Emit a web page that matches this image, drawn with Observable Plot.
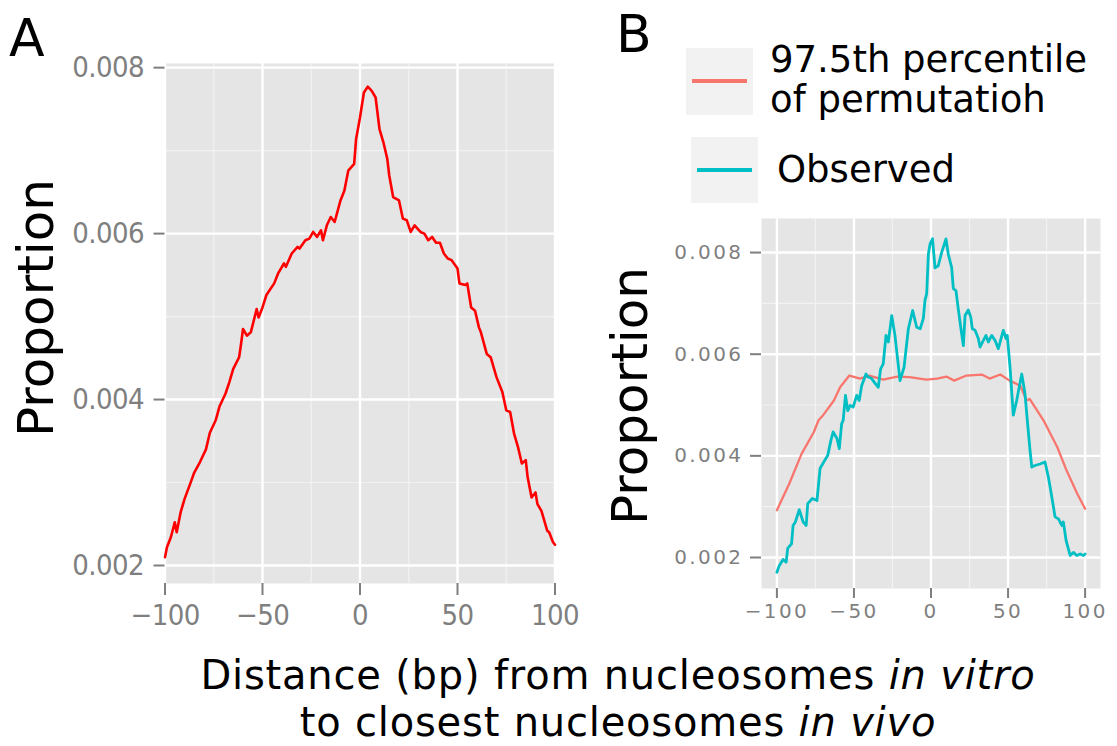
<!DOCTYPE html>
<html><head><meta charset="utf-8">
<script src="https://cdn.jsdelivr.net/npm/d3@7"></script>
<script src="https://cdn.jsdelivr.net/npm/@observablehq/plot@0.6"></script>
<style>
body{margin:0;background:#fff;}
#fig{position:relative;width:1117px;height:746px;overflow:hidden;font-family:"DejaVu Sans",sans-serif;color:#000;}
.abs{position:absolute;white-space:nowrap;line-height:1;}
.rot{transform:translate(-50%,-50%) rotate(-90deg);}
.key{position:absolute;background:#f2f2f2;}
.keyline{position:absolute;height:4px;}
</style></head><body><div id="fig"></div>
<script>
// ---- Panel A: proportion by distance (bp) ----
const aX = [-100,-99,-97,-95,-94,-92,-90,-87,-85,-82,-79,-77,-74,-72,-69,-67,-65,-62,-61,-60,-58,-56,-53,-52,-50,-48,-44,-42,-39,-38,-35,-32,-31,-28,-26,-24,-22,-20,-19,-17,-15,-13,-10,-8,-6,-3,-2,0,2,4,6,8,10,12,14,15,17,20,22,24,26,28,31,33,35,37,39,41,43,45,47,50,51,54,55,57,59,61,62,65,67,70,73,75,77,79,81,83,85,86,88,90,91,93,96,97,99,100];
const aY = [0.00210,0.00222,0.00234,0.00252,0.00240,0.00264,0.00280,0.00299,0.00312,0.00325,0.00340,0.00360,0.00375,0.00392,0.00407,0.00421,0.00437,0.00451,0.00467,0.00485,0.00477,0.00481,0.00509,0.00499,0.00511,0.00526,0.00540,0.00552,0.00564,0.00560,0.00576,0.00584,0.00582,0.00592,0.00594,0.00602,0.00596,0.00604,0.00592,0.00610,0.00620,0.00614,0.00640,0.00652,0.00676,0.00684,0.00714,0.00740,0.00770,0.00777,0.00772,0.00764,0.00726,0.00710,0.00690,0.00670,0.00644,0.00640,0.00618,0.00616,0.00602,0.00610,0.00602,0.00600,0.00592,0.00596,0.00589,0.00589,0.00576,0.00570,0.00568,0.00558,0.00540,0.00538,0.00540,0.00511,0.00507,0.00487,0.00481,0.00455,0.00451,0.00427,0.00409,0.00387,0.00385,0.00359,0.00343,0.00323,0.00327,0.00306,0.00282,0.00288,0.00274,0.00266,0.00242,0.00240,0.00228,0.00225];

// ---- Panel B: 97.5th percentile of permutation ----
const permX = [-100,-92,-84,-76,-73,-70,-63,-59,-53,-46,-40,-31,-22,-14,-3,4,10,15,23,33,38,45,51,58,62,64,73,82,88,95,100];
const permY = [0.00293,0.00345,0.00404,0.00447,0.00470,0.00480,0.00509,0.00535,0.00558,0.00552,0.00558,0.00550,0.00556,0.00555,0.00550,0.00552,0.00556,0.00548,0.00558,0.00560,0.00552,0.00560,0.00548,0.00538,0.00509,0.00512,0.00470,0.00417,0.00371,0.00325,0.00296];

// ---- Panel B: observed ----
const obsX = [-100,-98.5,-96,-94,-93,-90.5,-89.5,-88,-85.5,-83,-81,-80,-77,-74,-72,-69,-67,-65,-63.5,-61,-59.5,-58,-57,-55.5,-54,-52.5,-50.5,-48.2,-46.6,-45,-42.2,-40.7,-38.5,-36.4,-34.2,-32.7,-31,-29.2,-27.7,-25.5,-23.4,-20.1,-17.5,-14.7,-11.9,-9.3,-7,-5,-3.9,-2.8,-1.7,-0.6,1,2.6,4.7,6.9,9.7,11.2,13.4,14.5,16.2,17.7,19.3,21,22.1,24.2,25.8,26.8,28.6,30.7,31.8,34,35.7,37.2,39.4,41.6,43.7,46.9,48.7,49.5,51.3,53.4,55.6,58.9,61,62.5,64.3,65.4,67.5,70.8,74,76.2,78.4,80.5,82.7,84.9,85.9,87.7,90.3,92.4,94.6,96.8,98.9,100];
const obsY = [0.00171,0.00184,0.00196,0.00191,0.00218,0.00227,0.00263,0.00270,0.00294,0.00270,0.00263,0.00306,0.00316,0.00312,0.00375,0.00391,0.00401,0.00430,0.00447,0.00434,0.00414,0.00463,0.00470,0.00519,0.00489,0.00499,0.00496,0.00519,0.00509,0.00538,0.00561,0.00555,0.00552,0.00543,0.00535,0.00571,0.00581,0.00637,0.00624,0.00676,0.00637,0.00548,0.00574,0.00650,0.00686,0.00653,0.00650,0.00670,0.00706,0.00719,0.00797,0.00817,0.00827,0.00770,0.00774,0.00800,0.00827,0.00797,0.00771,0.00729,0.00725,0.00689,0.00653,0.00617,0.00676,0.00687,0.00673,0.00650,0.00647,0.00631,0.00614,0.00627,0.00637,0.00624,0.00637,0.00627,0.00611,0.00647,0.00631,0.00637,0.00574,0.00480,0.00509,0.00561,0.00522,0.00470,0.00410,0.00378,0.00381,0.00384,0.00388,0.00358,0.00319,0.00280,0.00276,0.00263,0.00270,0.00233,0.00204,0.00210,0.00204,0.00207,0.00204,0.00207];

// ---- ticks ----
const xMajor = [-100,-50,0,50,100];
const xMinor = [-75,-25,25,75];
const yMajor = [0.002,0.004,0.006,0.008];
const yMinor = [0.003,0.005,0.007];

const seriesNames = ["97.5th percentile\nof permutatioh","Observed"];
const seriesColors = ["#F8766D","#00BFC4"];

const aData = aX.map((x,i)=>({x, y:aY[i]}));
const permData = permX.map((x,i)=>({x, y:permY[i]}));
const obsData = obsX.map((x,i)=>({x, y:obsY[i]}));

const fig = document.getElementById("fig");

function background(){
  return [
    Plot.frame({fill:"#e5e5e5", stroke:"none"}),
    Plot.gridX(xMinor, {stroke:"#f2f2f2", strokeOpacity:1, strokeWidth:1.2}),
    Plot.gridY(yMinor, {stroke:"#f2f2f2", strokeOpacity:1, strokeWidth:1.2}),
    Plot.gridX(xMajor, {stroke:"#ffffff", strokeOpacity:1, strokeWidth:2.4}),
    Plot.gridY(yMajor, {stroke:"#ffffff", strokeOpacity:1, strokeWidth:2.4})
  ];
}

// Panel A
const plotA = Plot.plot({
  width: 580, height: 640,
  marginLeft: 164.5, marginRight: 25.5, marginTop: 63, marginBottom: 57,
  x: {domain: [-100, 100]},
  y: {domain: [0.001783, 0.00805]},
  style: {fontFamily: '"Liberation Sans Narrow","DejaVu Sans Condensed",sans-serif', letterSpacing: "-0.6px", background: "transparent"},
  marks: [
    ...background(),
    Plot.line(aData, {x:"x", y:"y", stroke:"#ff0000", strokeWidth:2.6}),
    Plot.axisX(xMajor, {label:null, tickSize:12, tickPadding:9, fontSize:29, color:"#7f7f7f", strokeWidth:2}),
    Plot.axisY(yMajor, {label:null, tickSize:11, tickPadding:10, fontSize:29, color:"#7f7f7f", strokeWidth:2, tickFormat: d3.format(".3f")})
  ]
});
plotA.style.position = "absolute"; plotA.style.left = "0px"; plotA.style.top = "0px";
fig.appendChild(plotA);

// Panel B
const plotB = Plot.plot({
  width: 477, height: 440,
  marginLeft: 121, marginRight: 17, marginTop: 18, marginBottom: 52,
  x: {domain: [-110, 110]},
  y: {domain: [0.00139, 0.00867]},
  style: {fontFamily: '"DejaVu Sans",sans-serif', letterSpacing: "2.4px", background: "transparent"},
  marks: [
    ...background(),
    Plot.line(permData, {x:"x", y:"y", stroke:seriesColors[0], strokeWidth:2.3}),
    Plot.line(obsData, {x:"x", y:"y", stroke:seriesColors[1], strokeWidth:2.8}),
    Plot.axisX(xMajor, {label:null, tickSize:10, tickPadding:5, fontSize:20, color:"#7f7f7f", strokeWidth:2}),
    Plot.axisY(yMajor, {label:null, tickSize:11, tickPadding:7, fontSize:20, color:"#7f7f7f", strokeWidth:2, tickFormat: d3.format(".3f")})
  ]
});
plotB.style.position = "absolute"; plotB.style.left = "640px"; plotB.style.top = "200px";
fig.appendChild(plotB);

// Text overlays
function addText(html, css, cls){
  const d = document.createElement("div");
  d.className = "abs" + (cls ? " " + cls : "");
  d.innerHTML = html;
  Object.assign(d.style, css);
  fig.appendChild(d);
  return d;
}
addText("A", {left:"9px", top:"12px", fontSize:"52px"});
addText("B", {left:"616px", top:"8px", fontSize:"52px"});
addText("Proportion", {left:"36px", top:"308px", fontSize:"50px"}, "rot");
addText("Proportion", {left:"630px", top:"396px", fontSize:"50px"}, "rot");
addText('Distance (bp) from nucleosomes <i>in vitro</i><br>to closest nucleosomes <i>in vivo</i>',
  {left:"618px", top:"652px", fontSize:"40px", letterSpacing:"0.8px", lineHeight:"47px", textAlign:"center", transform:"translateX(-50%)"});

// Legend
const keys = [
  {left:686, top:48, w:67, h:67, lineTop:79, text:seriesNames[0], tx:770, ty:40},
  {left:691, top:137, w:67, h:66, lineTop:168, text:seriesNames[1], tx:777, ty:150}
];
keys.forEach((k,i)=>{
  const b = document.createElement("div");
  b.className = "key";
  Object.assign(b.style, {left:k.left+"px", top:k.top+"px", width:k.w+"px", height:k.h+"px"});
  fig.appendChild(b);
  const l = document.createElement("div");
  l.className = "keyline";
  Object.assign(l.style, {left:(k.left+6)+"px", top:k.lineTop+"px", width:(k.w-12)+"px", background:seriesColors[i]});
  fig.appendChild(l);
  addText(k.text.replace("\n","<br>"), {left:k.tx+"px", top:k.ty+"px", fontSize:"37px", lineHeight:"40px"});
});
</script></body></html>
